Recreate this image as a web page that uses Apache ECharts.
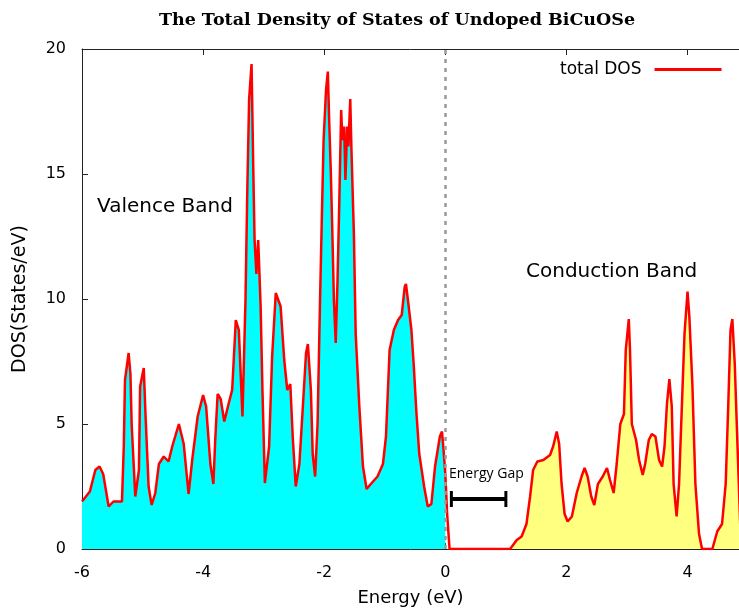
<!DOCTYPE html>
<html>
<head>
<meta charset="utf-8">
<script src="https://cdn.jsdelivr.net/npm/echarts@6/dist/echarts.min.js"></script>
<style>html,body{margin:0;padding:0;background:#fff}#c{width:739px;height:613px}</style>
</head>
<body>
<div id="c"></div>
<script>
// Valence band (E <= ~0.07 eV)
const valenceEnergy = [-6.0,-5.87,-5.78,-5.71,-5.65,-5.56,-5.48,-5.34,-5.31,-5.29,-5.23,-5.2,-5.18,-5.12,-5.06,-5.04,-4.98,-4.95,-4.9,-4.85,-4.79,-4.73,-4.65,-4.57,-4.51,-4.4,-4.32,-4.24,-4.18,-4.09,-4.0,-3.95,-3.88,-3.83,-3.8,-3.76,-3.71,-3.65,-3.58,-3.52,-3.46,-3.41,-3.35,-3.3,-3.27,-3.24,-3.2,-3.19,-3.17,-3.15,-3.12,-3.09,-3.05,-3.02,-2.98,-2.91,-2.86,-2.8,-2.77,-2.72,-2.66,-2.61,-2.56,-2.52,-2.47,-2.41,-2.36,-2.3,-2.27,-2.22,-2.19,-2.15,-2.11,-2.07,-2.04,-2.01,-1.97,-1.94,-1.92,-1.89,-1.86,-1.84,-1.81,-1.78,-1.75,-1.72,-1.7,-1.67,-1.65,-1.62,-1.6,-1.57,-1.55,-1.51,-1.48,-1.42,-1.36,-1.3,-1.23,-1.12,-1.03,-0.98,-0.92,-0.85,-0.78,-0.72,-0.67,-0.65,-0.61,-0.56,-0.52,-0.48,-0.43,-0.35,-0.29,-0.23,-0.17,-0.09,-0.055,-0.03,0.0,0.03,0.07];
const valenceDos = [1.9,2.3,3.16,3.3,3.0,1.7,1.9,1.9,4.1,6.76,7.84,7.0,5.0,2.1,3.16,6.5,7.24,5.3,2.5,1.76,2.24,3.4,3.7,3.5,4.1,5.0,4.2,2.2,3.56,5.3,6.16,5.7,3.4,2.6,4.36,6.2,6.0,5.1,5.8,6.36,9.16,8.76,5.3,9.96,14.36,18.0,19.4,17.96,15.0,12.36,11.0,12.36,9.7,6.36,2.64,4.1,7.7,10.24,10.2,9.7,7.56,6.36,6.6,4.5,2.5,3.4,5.4,7.84,8.2,6.36,3.8,2.9,5.0,9.8,13.16,16.36,18.36,19.1,17.3,15.0,12.1,9.96,8.24,10.76,13.96,17.56,16.36,16.9,14.76,16.9,16.1,18.0,15.96,12.6,8.6,5.7,3.3,2.4,2.6,2.9,3.4,4.5,7.96,8.76,9.16,9.36,10.5,10.6,9.8,8.76,7.3,5.56,3.8,2.5,1.7,1.8,3.3,4.5,4.7,4.0,3.0,1.4,0];
// Conduction band (E >= ~1.07 eV)
const conductionEnergy = [1.07,1.18,1.26,1.34,1.4,1.45,1.52,1.62,1.73,1.78,1.84,1.88,1.92,1.97,2.02,2.09,2.17,2.25,2.3,2.35,2.41,2.46,2.52,2.6,2.67,2.72,2.78,2.83,2.89,2.95,2.98,3.03,3.05,3.08,3.15,3.2,3.26,3.3,3.36,3.41,3.47,3.53,3.58,3.62,3.66,3.7,3.74,3.77,3.82,3.86,3.91,3.95,4.0,4.03,4.08,4.13,4.19,4.24,4.41,4.49,4.57,4.63,4.67,4.71,4.74,4.78,4.82,4.87];
const conductionDos = [0,0.36,0.5,1.0,2.1,3.16,3.5,3.56,3.76,4.1,4.7,4.2,2.6,1.4,1.1,1.3,2.24,2.9,3.24,2.9,2.1,1.76,2.6,2.9,3.24,2.76,2.24,3.4,5.0,5.4,7.96,9.2,7.96,5.0,4.36,3.56,2.96,3.4,4.36,4.6,4.5,3.56,3.3,4.1,5.8,6.8,5.7,2.6,1.3,2.6,5.96,8.6,10.3,9.3,6.6,2.6,0.6,0,0,0.7,1.0,2.6,5.56,8.76,9.2,7.4,4.5,1.0];
// Energy gap marker
const gapEnergy = [0.1, 1.0];
const gapLevel = [2.0, 2.0];
const xTicks = [-6, -4, -2, 0, 2, 4];
const yTicks = [0, 5, 10, 15, 20];
const fermiLevel = 0;

const zip = (a, b) => a.map((v, i) => [v, b[i]]);
const valencePts = zip(valenceEnergy, valenceDos);
const valenceFill = valencePts.filter(p => p[0] <= fermiLevel);
const conductionPts = zip(conductionEnergy, conductionDos);
const allPts = valencePts.concat(conductionPts);

const chart = echarts.init(document.getElementById('c'));
const axisCol = '#222';
const tickFont = {fontFamily: 'DejaVu Sans', fontSize: 16, color: '#000'};
chart.setOption({
  animation: false,
  backgroundColor: '#fff',
  title: {
    text: 'The Total Density of States of Undoped BiCuOSe',
    left: 392, top: 6, textAlign: 'center',
    textStyle: {fontFamily: 'DejaVu Serif', fontWeight: 'bold', fontSize: 17.5, color: '#000'}
  },
  legend: {
    data: [{name: 'total DOS', icon: 'rect'}],
    left: 555, top: 56, align: 'right',
    itemWidth: 67, itemHeight: 3,
    textStyle: {fontFamily: 'DejaVu Sans', fontSize: 17, color: '#000', padding: [0, 8, 0, 0]}
  },
  grid: {left: 82, right: 0, top: 49, bottom: 64},
  xAxis: [{
    type: 'value', min: -6, max: 4.85, position: 'bottom',
    name: 'Energy (eV)', nameLocation: 'middle', nameGap: 40,
    nameTextStyle: {fontFamily: 'DejaVu Sans', fontSize: 18, color: '#000'},
    axisLine: {show: true, onZero: false, lineStyle: {color: axisCol, width: 1}},
    axisTick: {show: true, inside: true, length: 6, customValues: xTicks, lineStyle: {color: axisCol}},
    axisLabel: {customValues: xTicks, margin: 16, ...tickFont},
    splitLine: {show: false}
  }, {
    type: 'value', min: -6, max: 4.85, position: 'top',
    axisLine: {show: true, onZero: false, lineStyle: {color: axisCol, width: 1}},
    axisTick: {show: true, inside: true, length: 6, customValues: xTicks, lineStyle: {color: axisCol}},
    axisLabel: {show: false},
    splitLine: {show: false}
  }],
  yAxis: {
    type: 'value', min: 0, max: 20, interval: 5, position: 'left',
    name: 'DOS(States/eV)', nameLocation: 'middle', nameRotate: 90, nameGap: 52,
    nameTextStyle: {fontFamily: 'DejaVu Sans', fontSize: 19, color: '#000'},
    axisLine: {show: true, onZero: false, lineStyle: {color: axisCol, width: 1}},
    axisTick: {show: true, inside: true, length: 6, customValues: yTicks, lineStyle: {color: axisCol}},
    axisLabel: {margin: 16, customValues: yTicks, ...tickFont},
    splitLine: {show: false}
  },
  series: [
    {
      name: 'valenceFill', type: 'line', data: valenceFill, showSymbol: false, symbol: 'none',
      lineStyle: {width: 0}, areaStyle: {color: '#00FFFF', opacity: 1}, z: 1, silent: true,
      markLine: {
        silent: true, symbol: 'none', label: {show: false},
        lineStyle: {color: '#999', type: [4, 5], width: 2.5},
        data: [{xAxis: fermiLevel}]
      }
    },
    {
      name: 'conductionFill', type: 'line', data: conductionPts, showSymbol: false, symbol: 'none',
      lineStyle: {width: 0}, areaStyle: {color: '#FFFF80', opacity: 1}, z: 1, silent: true
    },
    {
      name: 'total DOS', type: 'line', data: allPts, showSymbol: false, symbol: 'none',
      lineStyle: {color: '#FF0000', width: 2.5}, itemStyle: {color: '#FF0000'}, z: 3
    },
    {
      name: 'gap', type: 'line', data: zip(gapEnergy, gapLevel), symbol: 'rect', symbolSize: [3, 16],
      showSymbol: true, lineStyle: {color: '#000', width: 4}, itemStyle: {color: '#000'}, z: 4, silent: true
    }
  ],
  graphic: [
    {type: 'text', left: 97, top: 197, style: {text: 'Valence Band', fontFamily: 'DejaVu Sans', fontSize: 20, fill: '#000'}},
    {type: 'text', left: 526, top: 262, style: {text: 'Conduction Band', fontFamily: 'DejaVu Sans', fontSize: 20, fill: '#000'}},
    {type: 'text', left: 449, top: 467, style: {text: 'Energy Gap', fontFamily: 'Open Sans', fontSize: 14, fill: '#000'}}
  ]
});
</script>
</body>
</html>
